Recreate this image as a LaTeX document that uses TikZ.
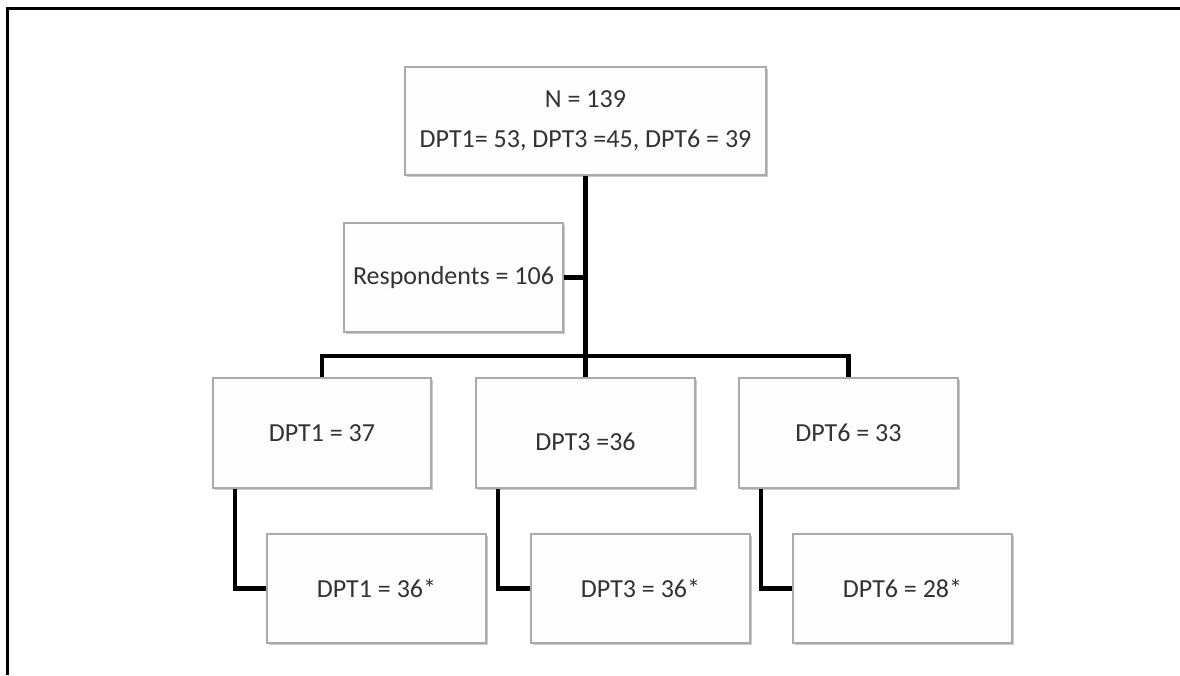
\documentclass[tikz,border=0pt]{standalone}
\usepackage{fontspec}
\setmainfont{Carlito}
\usetikzlibrary{shadows}
\definecolor{txt}{RGB}{50,50,50}
\definecolor{boxline}{RGB}{170,170,170}
\definecolor{boxfill}{RGB}{253,253,253}
\tikzset{
  box/.style={draw=boxline, line width=1.3pt, fill=boxfill, text=txt,
    font=\fontsize{26}{40}\selectfont, align=center, inner sep=0pt,
    drop shadow={shadow xshift=1.5pt, shadow yshift=-2.2pt, opacity=0.35, fill=black!60}},
  link/.style={draw=black, line width=4.2pt},
  frame/.style={draw=black, line width=3pt}
}
\begin{document}
\begin{tikzpicture}[x=1pt,y=-1pt]
\useasboundingbox (0,0) rectangle (1180,675);
\draw[frame] (7.5,675) -- (7.5,8.5) -- (1180,8.5);

\node[box, minimum width=361pt, minimum height=108pt] (top) at (585.5,121)
  {N = 139\\DPT1= 53, DPT3 =45, DPT6 = 39};
\node[box, minimum width=219pt, minimum height=109pt] (resp) at (453.5,277.5) {Respondents = 106};

\node[box, minimum width=218pt, minimum height=110pt] (d1) at (322,433) {DPT1 = 37};
\node[box, minimum width=219pt, minimum height=110pt] (d3) at (585.5,433) {\raisebox{-9pt}[\height][\depth]{DPT3 =36}};
\node[box, minimum width=219pt, minimum height=110pt] (d6) at (848.5,433) {DPT6 = 33};

\node[box, minimum width=219pt, minimum height=109pt] (b1) at (376.5,588.5) {DPT1 = 36*};
\node[box, minimum width=219pt, minimum height=109pt] (b3) at (640.5,588.5) {DPT3 = 36*};
\node[box, minimum width=219pt, minimum height=109pt] (b6) at (902.5,588.5) {DPT6 = 28*};

\coordinate (j) at (585.5,356);
\draw[link] (top.south) -- (j);
\draw[link] (resp.east) -- (resp.east -| top.south);
\draw[link] (d1.north) |- (j) -| (d6.north);
\draw[link] (j) -- (d3.north);

\draw[link] ([xshift=22.5pt]d1.south west) |- (b1.west);
\draw[link] ([xshift=23pt]d3.south west) |- (b3.west);
\draw[link] ([xshift=23pt]d6.south west) |- (b6.west);
\end{tikzpicture}
\end{document}
